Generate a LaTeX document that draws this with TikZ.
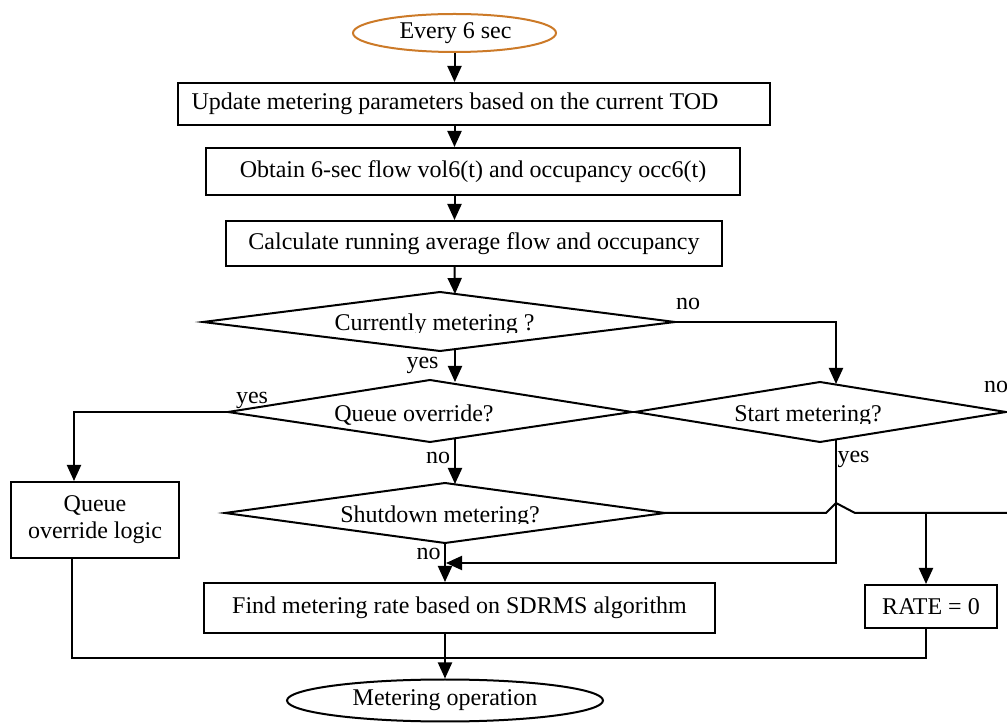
\documentclass[tikz,border=0pt]{standalone}
\usepackage{fontspec}
\setmainfont{Liberation Serif}
\usetikzlibrary{arrows.meta,shapes.geometric}
\definecolor{evorange}{RGB}{204,122,40}
\begin{document}
\begin{tikzpicture}[x=0.5pt,y=-0.5pt,
  line width=1pt,
  every node/.style={font=\fontsize{12}{13.5}\selectfont, inner sep=0pt},
  box/.style={draw, rectangle},
  arr/.style={-{Triangle[width=7pt,length=8pt]}},
  lbl/.style={anchor=base},
  dtext/.style={anchor=base}]
\useasboundingbox (0,0) rectangle (1007,726);

% ---- boxes and terminals ----
\node[draw=evorange, ellipse, minimum width=101.5pt, minimum height=19pt] (ev) at (454.5,33) {};
\node (evt) at (455.5,33) {Every 6 sec};
\node[box, minimum width=296pt, minimum height=21pt] (up) at (474,104) {};
\node (upt) at (455,104) {Update metering parameters based on the current TOD};
\node[box, minimum width=267pt, minimum height=23.5pt] (ob) at (473,171.5) {Obtain 6-sec flow vol6(t) and occupancy occ6(t)};
\node[box, minimum width=248pt, minimum height=22.5pt] (ca) at (474,243.5) {Calculate running average flow and occupancy};
\node[box, minimum width=84pt, minimum height=38pt, align=center] (ql) at (95,520) {Queue\\override logic};
\node[box, minimum width=255.5pt, minimum height=25pt] (fi) at (459.5,608) {Find metering rate based on SDRMS algorithm};
\node[box, minimum width=66pt, minimum height=21.5pt] (ra) at (931,606.5) {RATE = 0};
\node[draw, ellipse, minimum width=158pt, minimum height=21pt] (mo) at (445,700.5) {Metering operation};

% ---- diamonds ----
\coordinate (cmL) at (203,322); \coordinate (cmT) at (440,292);
\coordinate (cmR) at (675,322); \coordinate (cmB) at (440,351);
\draw (cmL) -- (cmT) -- (cmR) -- (cmB) -- cycle;
\begin{scope}
  \clip (300,300) rectangle (600,333);
  \node[dtext] (cmt) at (434.5,331) {Currently metering ?};
\end{scope}

\coordinate (qoL) at (228,412); \coordinate (qoT) at (430,380);
\coordinate (qoR) at (632,412); \coordinate (qoB) at (430,442);
\draw (qoL) -- (qoT) -- (qoR) -- (qoB) -- cycle;
\node[dtext] (qot) at (414,422) {Queue override?};

\coordinate (smL) at (635,412); \coordinate (smT) at (820,382);
\coordinate (smR) at (1006,412); \coordinate (smB) at (820,442);
\draw (smL) -- (smT) -- (smR) -- (smB) -- cycle;
\begin{scope}
  \clip (700,390) rectangle (950,423.5);
  \node[dtext] (smt) at (808,422) {Start metering?};
\end{scope}

\coordinate (sdL) at (225,513); \coordinate (sdT) at (445,483);
\coordinate (sdR) at (665,513); \coordinate (sdB) at (445,543);
\draw (sdL) -- (sdT) -- (sdR) -- (sdB) -- cycle;
\begin{scope}
  \clip (300,490) rectangle (600,523.5);
  \node[dtext] (sdt) at (440,522.8) {Shutdown metering?};
\end{scope}

% ---- helper coordinates ----
\coordinate (cmIn) at (455,294);
\coordinate (cmOut) at (455,349);
\coordinate (qoIn) at (455,382);
\coordinate (qoOut) at (455,439);
\coordinate (sdIn) at (455,484);
\coordinate (noC) at (836,322);
\coordinate (smIn) at (836,384);
\coordinate (smOut) at (836,440);
\coordinate (yesC) at (836,563);
\coordinate (join) at (446,563);
\coordinate (qyC) at (74,412);
\coordinate (h1) at (826,513);
\coordinate (h2) at (836,503);
\coordinate (h3) at (855,513);
\coordinate (edge) at (1007,513);
\coordinate (br) at (926,513);
\coordinate (bl) at (72,658);
\coordinate (bj) at (445,658);
\coordinate (bc) at (926,658);

% ---- connectors ----
\draw[arr] (ev.south) -- (ev.south |- up.north);
\draw[arr] (ev.south |- up.south) -- (ev.south |- ob.north);
\draw[arr] (ev.south |- ob.south) -- (ev.south |- ca.north);
\draw[arr] (ev.south |- ca.south) -- (cmIn);
\draw[arr] (cmOut) -- (qoIn);
\draw[arr] (cmR) -- (noC) -- (smIn);
\draw[arr] (qoL) -- (qyC) -- (qyC |- ql.north);
\draw[arr] (qoOut) -- (sdIn);
\draw[arr] (sdB) -- (sdB |- fi.north);
\draw[arr] (smOut) -- (yesC) -- (join);
\draw (sdR) -- (h1) -- (h2) -- (h3) -- (edge);
\draw[arr] (br) -- (br |- ra.north);
\draw (ql.south -| bl) -- (bl) -- (bc) -- (ra.south -| bc);
\draw[arr] (fi.south -| bj) -- (mo.north);

% ---- branch labels ----
\node[lbl] (l1) at (688,310) {no};
\node[lbl] (l2) at (422.5,369) {yes};
\node[lbl] (l3) at (252,404) {yes};
\node[lbl] (l4) at (996,393) {no};
\node[lbl] (l5) at (853.5,463) {yes};
\node[lbl] (l6) at (438,464) {no};
\node[lbl] (l7) at (428.5,560) {no};
\end{tikzpicture}
\end{document}
